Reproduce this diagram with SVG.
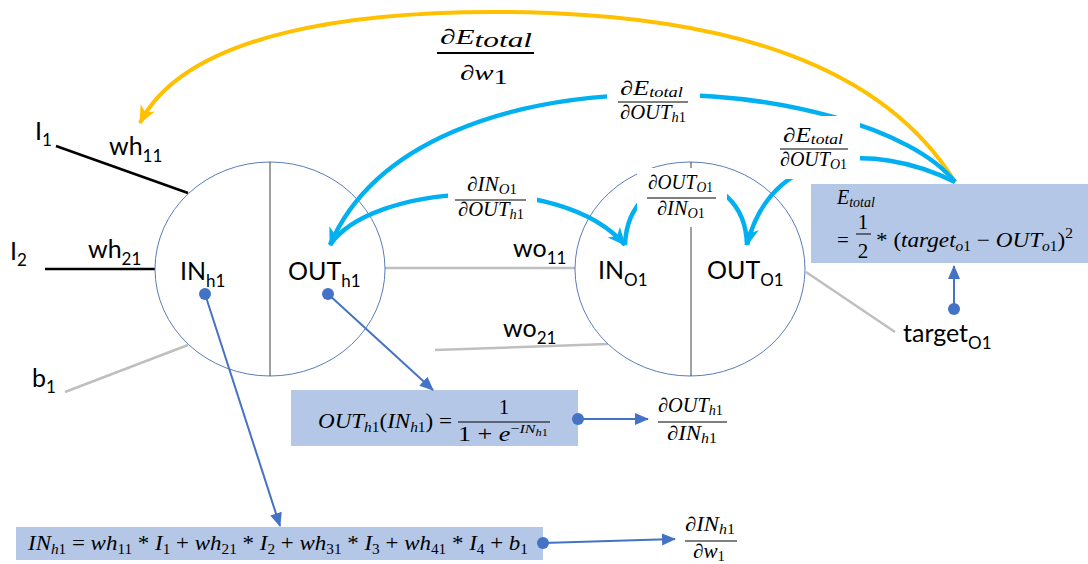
<svg xmlns="http://www.w3.org/2000/svg" width="1088" height="564" viewBox="0 0 1088 564">
<style>
.t{font-family:Lato,"Open Sans",sans-serif;font-size:25px;fill:#000}
.ts{font-size:17px}
.m{font-family:"Liberation Serif","Times New Roman",serif;font-size:21px;fill:#000}
.f{font-size:20px}
.i{font-style:italic}
.s{font-size:14px}
.node{fill:#fff;stroke:#5B7DB8;stroke-width:1}
.div{stroke:#404040;stroke-width:1}
.blk{stroke:#000;stroke-width:2.5}
.gry{stroke:#BFBFBF;stroke-width:2.5}
.cy{fill:none;stroke:#00B0F0;stroke-width:4.5}
.yl{fill:none;stroke:#FFC000;stroke-width:4}
.db{fill:none;stroke:#4472C4;stroke-width:2}
.dot{fill:#4472C4}
.box{fill:#B4C7E7}
.fl{stroke:#000;stroke-width:1}
.bg{fill:#fff}
</style>
<defs>
<marker id="ac" markerUnits="userSpaceOnUse" markerWidth="22" markerHeight="22" viewBox="0 0 22 22" refX="19" refY="11" orient="auto"><path d="M2,3 L20,11 L2,19 L7,11 Z" fill="#00B0F0"/></marker>
<marker id="ay" markerUnits="userSpaceOnUse" markerWidth="22" markerHeight="22" viewBox="0 0 22 22" refX="19" refY="11" orient="auto"><path d="M2,3 L20,11 L2,19 L7,11 Z" fill="#FFC000"/></marker>
<marker id="ad" markerUnits="userSpaceOnUse" markerWidth="14" markerHeight="14" viewBox="0 0 14 14" refX="13" refY="7" orient="auto"><path d="M0,1 L14,7 L0,13 Z" fill="#4472C4"/></marker>
</defs>

<g id="inputs">
<line class="blk" x1="56" y1="146" x2="188" y2="193"/>
<line class="blk" x1="45" y1="269" x2="155" y2="269"/>
<line class="gry" x1="65" y1="392" x2="188" y2="345"/>
<line class="gry" x1="385" y1="268" x2="575" y2="268"/>
<line class="gry" x1="435" y1="350" x2="608" y2="344"/>
<line class="gry" x1="806" y1="272" x2="895" y2="332"/>
<text class="t" x="35" y="140">I<tspan class="ts" dy="6">1</tspan></text>
<text class="t" x="109" y="155">wh<tspan class="ts" dy="7">11</tspan></text>
<text class="t" x="10" y="260">I<tspan class="ts" dy="6">2</tspan></text>
<text class="t" x="88" y="258">wh<tspan class="ts" dy="7">21</tspan></text>
<text class="t" x="32" y="387">b<tspan class="ts" dy="6">1</tspan></text>
<text class="t" x="513" y="257">wo<tspan class="ts" dy="7">11</tspan></text>
<text class="t" x="503" y="337">wo<tspan class="ts" dy="7">21</tspan></text>
<text class="t" x="903" y="342">target<tspan class="ts" dy="7">O1</tspan></text>
</g>

<g id="node-h1">
<ellipse class="node" cx="270" cy="269" rx="115" ry="107"/>
<line class="div" x1="270" y1="162" x2="270" y2="376"/>
<text class="t" x="180" y="280">IN<tspan class="ts" dy="7">h1</tspan></text>
<text class="t" x="288" y="280">OUT<tspan class="ts" dy="7">h1</tspan></text>
</g>

<g id="node-o1">
<ellipse class="node" cx="690" cy="269" rx="115" ry="107"/>
<line class="div" x1="691" y1="162" x2="691" y2="376"/>
<text class="t" x="598" y="279">IN<tspan class="ts" dy="7">O1</tspan></text>
<text class="t" x="707" y="279">OUT<tspan class="ts" dy="7">O1</tspan></text>
</g>

<g id="node-etotal">
<rect class="box" x="811" y="184" width="277" height="79"/>
<text class="m f" x="837" y="204"><tspan class="i">E</tspan><tspan class="s i" dy="3">total</tspan></text>
<text class="m" x="837" y="247">=</text>
<text class="m" x="863" y="229" text-anchor="middle">1</text>
<line class="fl" x1="856" y1="234" x2="871" y2="234"/>
<text class="m" x="863" y="258" text-anchor="middle">2</text>
<text class="m" x="876" y="247" textLength="197" lengthAdjust="spacingAndGlyphs">* (<tspan class="i">target</tspan><tspan class="s" dy="4"><tspan class="i">o</tspan>1</tspan><tspan dy="-4"> − </tspan><tspan class="i">OUT</tspan><tspan class="s" dy="4"><tspan class="i">o</tspan>1</tspan><tspan dy="-4">)</tspan><tspan class="s" dy="-9">2</tspan></text>
</g>

<g id="node-out-eq">
<rect class="box" x="291" y="390" width="287" height="56"/>
<text class="m" x="318" y="428" textLength="134" lengthAdjust="spacingAndGlyphs"><tspan class="i">OUT</tspan><tspan class="s" dy="4"><tspan class="i">h</tspan>1</tspan><tspan dy="-4">(</tspan><tspan class="i">IN</tspan><tspan class="s" dy="4"><tspan class="i">h</tspan>1</tspan><tspan dy="-4">) =</tspan></text>
<text class="m" x="504" y="414" text-anchor="middle">1</text>
<line class="fl" x1="458" y1="422" x2="550" y2="422"/>
<text class="m" x="458" y="441" textLength="90" lengthAdjust="spacingAndGlyphs">1 + <tspan class="i">e</tspan><tspan font-size="13" dy="-8">−</tspan><tspan class="i" font-size="13">IN</tspan><tspan font-size="10" dy="3"><tspan class="i">h</tspan>1</tspan></text>
</g>

<g id="node-in-eq">
<rect class="box" x="16" y="527" width="527" height="33"/>
<text class="m" x="28" y="550" textLength="500" lengthAdjust="spacingAndGlyphs"><tspan class="i">IN</tspan><tspan class="s" dy="4"><tspan class="i">h</tspan>1</tspan><tspan dy="-4"> = </tspan><tspan class="i">wh</tspan><tspan class="s" dy="4">11</tspan><tspan dy="-4"> * </tspan><tspan class="i">I</tspan><tspan class="s" dy="4">1</tspan><tspan dy="-4"> + </tspan><tspan class="i">wh</tspan><tspan class="s" dy="4">21</tspan><tspan dy="-4"> * </tspan><tspan class="i">I</tspan><tspan class="s" dy="4">2</tspan><tspan dy="-4"> + </tspan><tspan class="i">wh</tspan><tspan class="s" dy="4">31</tspan><tspan dy="-4"> * </tspan><tspan class="i">I</tspan><tspan class="s" dy="4">3</tspan><tspan dy="-4"> + </tspan><tspan class="i">wh</tspan><tspan class="s" dy="4">41</tspan><tspan dy="-4"> * </tspan><tspan class="i">I</tspan><tspan class="s" dy="4">4</tspan><tspan dy="-4"> + </tspan><tspan class="i">b</tspan><tspan class="s" dy="4">1</tspan></text>
</g>

<g id="connectors">
<path class="yl" d="M955,182 C880,60 720,20 550,13 C350,6 185,35 140,123" marker-end="url(#ay)"/>
<path class="cy" d="M955,182 C870,75 420,35 330,245" marker-end="url(#ac)"/>
<path class="cy" d="M955,182 C870,140 770,150 747,245" marker-end="url(#ac)"/>
<path class="cy" d="M330,245 C370,185 560,170 625,245" marker-end="url(#ac)"/>
<path class="cy" d="M625,245 C628,160 745,160 747,245"/>
<line class="db" x1="205" y1="294" x2="280" y2="526" marker-end="url(#ad)"/>
<circle class="dot" cx="205" cy="294" r="6"/>
<line class="db" x1="328" y1="294" x2="433" y2="390" marker-end="url(#ad)"/>
<circle class="dot" cx="328" cy="294" r="6"/>
<line class="db" x1="578" y1="419" x2="648" y2="419" marker-end="url(#ad)"/>
<circle class="dot" cx="578" cy="419" r="6"/>
<line class="db" x1="543" y1="543" x2="675" y2="539" marker-end="url(#ad)"/>
<circle class="dot" cx="543" cy="543" r="6"/>
<line class="db" x1="954" y1="309" x2="954" y2="266" marker-end="url(#ad)"/>
<circle class="dot" cx="954" cy="309" r="6"/>
</g>

<g id="label-dE-dw1">
<text class="m" x="440" y="44" font-size="28" textLength="92" lengthAdjust="spacingAndGlyphs">∂<tspan class="i">E</tspan><tspan class="i" font-size="21" dy="3">total</tspan></text>
<line x1="437" y1="53" x2="534" y2="53" stroke="#000" stroke-width="2"/>
<text class="m" x="460" y="80" font-size="28" textLength="48" lengthAdjust="spacingAndGlyphs">∂<tspan class="i">w</tspan><tspan font-size="21" dy="4">1</tspan></text>
</g>

<g id="label-dE-dOUTh1">
<rect class="bg" x="607" y="78" width="93" height="50"/>
<text class="m f" x="620" y="95" textLength="63" lengthAdjust="spacingAndGlyphs">∂<tspan class="i">E</tspan><tspan class="s i" dy="2">total</tspan></text>
<line class="fl" x1="618" y1="102" x2="688" y2="102"/>
<text class="m f" x="620" y="119" textLength="66" lengthAdjust="spacingAndGlyphs">∂<tspan class="i">OUT</tspan><tspan class="s" dy="3"><tspan class="i">h</tspan>1</tspan></text>
</g>

<g id="label-dE-dOUTO1">
<rect class="bg" x="779" y="116" width="81" height="63"/>
<text class="m f" x="783" y="142" textLength="60" lengthAdjust="spacingAndGlyphs">∂<tspan class="i">E</tspan><tspan class="s i" dy="2">total</tspan></text>
<line class="fl" x1="780" y1="149" x2="848" y2="149"/>
<text class="m f" x="780" y="166" textLength="67" lengthAdjust="spacingAndGlyphs">∂<tspan class="i">OUT</tspan><tspan class="s" dy="3"><tspan class="i">O</tspan>1</tspan></text>
</g>

<g id="label-dIN-dOUTh1">
<rect class="bg" x="448" y="175" width="89" height="50"/>
<text class="m f" x="467" y="191" textLength="50" lengthAdjust="spacingAndGlyphs">∂<tspan class="i">IN</tspan><tspan class="s" dy="3"><tspan class="i">O</tspan>1</tspan></text>
<line class="fl" x1="455" y1="200" x2="526" y2="200"/>
<text class="m f" x="458" y="216" textLength="66" lengthAdjust="spacingAndGlyphs">∂<tspan class="i">OUT</tspan><tspan class="s" dy="3"><tspan class="i">h</tspan>1</tspan></text>
</g>

<g id="label-dOUT-dIN-O1">
<rect class="bg" x="637" y="168" width="90" height="59"/>
<text class="m f" x="648" y="189" textLength="65" lengthAdjust="spacingAndGlyphs">∂<tspan class="i">OUT</tspan><tspan class="s" dy="3"><tspan class="i">O</tspan>1</tspan></text>
<line class="fl" x1="647" y1="198" x2="716" y2="198"/>
<text class="m f" x="657" y="215" textLength="48" lengthAdjust="spacingAndGlyphs">∂<tspan class="i">IN</tspan><tspan class="s" dy="3"><tspan class="i">O</tspan>1</tspan></text>
</g>

<g id="label-dOUT-dIN-h1">
<text class="m f" x="658" y="412" textLength="65" lengthAdjust="spacingAndGlyphs">∂<tspan class="i">OUT</tspan><tspan class="s" dy="3"><tspan class="i">h</tspan>1</tspan></text>
<line class="fl" x1="658" y1="422" x2="727" y2="422"/>
<text class="m f" x="667" y="440" textLength="50" lengthAdjust="spacingAndGlyphs">∂<tspan class="i">IN</tspan><tspan class="s" dy="3"><tspan class="i">h</tspan>1</tspan></text>
</g>

<g id="label-dIN-dw1">
<text class="m f" x="685" y="531" textLength="50" lengthAdjust="spacingAndGlyphs">∂<tspan class="i">IN</tspan><tspan class="s" dy="3"><tspan class="i">h</tspan>1</tspan></text>
<line class="fl" x1="685" y1="541" x2="737" y2="541"/>
<text class="m f" x="693" y="558" textLength="32" lengthAdjust="spacingAndGlyphs">∂<tspan class="i">w</tspan><tspan class="s" dy="3">1</tspan></text>
</g>
</svg>
